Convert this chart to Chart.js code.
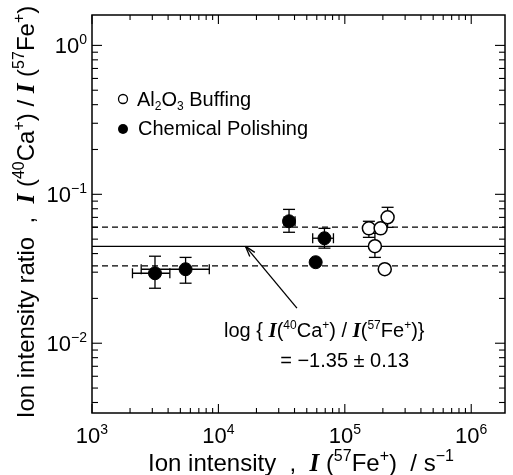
<!DOCTYPE html>
<html>
<head>
<meta charset="utf-8">
<script src="https://cdn.jsdelivr.net/npm/chart.js@4/dist/chart.umd.min.js"></script>
<style>
  body { margin: 0; background: #fff; }
  canvas { display: block; }
</style>
</head>
<body>
<canvas id="grafico" width="513" height="475"></canvas>
<script>
// Al2O3 buffing (open circles)
const buffX = [218000, 155000, 192000, 173000, 207000]
const buffY = [0.0701, 0.0591, 0.0591, 0.0448, 0.0314]
const buffYLo = [0.060, 0.0514, null, 0.0377, null]
const buffYHi = [0.0818, 0.0659, null, 0.0547, null]

// chemical polishing (filled circles)
const chemX = [3150, 5500, 36200, 69000, 58800]
const chemY = [0.0295, 0.0314, 0.0659, 0.0507, 0.0350]
const chemYLo = [0.0234, 0.0253, 0.0556, 0.0435, null]
const chemYHi = [0.0384, 0.0377, 0.0792, 0.0591, null]
const chemXLo = [2090, 2450, 33100, 55700, null]
const chemXHi = [4130, 8470, 40400, 81300, null]

// log{I(Ca)/I(Fe)} = -1.35 +- 0.13
const mediaRazao = 0.0447
const razaoSup = 0.0603
const razaoInf = 0.0331

// decades that get a label
const xExpoentes = [3, 4, 5, 6]
const yExpoentes = [0, -1, -2]

const xMin = 1000, xMax = 1.85e6
const yMin = 0.0034, yMax = 1.6

const SANS = '"Liberation Sans", Arial, sans-serif'
const SERIF = '"Liberation Serif", "Times New Roman", serif'

const pontos = (xs, ys) => xs.map((v, i) => ({x: v, y: ys[i]}))
const horizontal = v => [{x: xMin, y: v}, {x: xMax, y: v}]

// text made of runs: [texto, tipo] tipo = '' | 'sup' | 'sub' | 'I'
let supEscala = 0.62
const fonteRun = (tipo, size) => {
    if (tipo === 'sup' || tipo === 'sub') return `${Math.round(size * supEscala)}px ${SANS}`
    if (tipo === 'I') return `bold italic ${Math.round(size * 1.05)}px ${SERIF}`
    return `${size}px ${SANS}`
}
const larguraRuns = (ctx, runs, size) => runs.reduce((w, [t, k]) => {
    ctx.font = fonteRun(k, size)
    return w + ctx.measureText(t).width
}, 0)
const desenhaRuns = (ctx, runs, x, y, size, align) => {
    let px = x
    const w = larguraRuns(ctx, runs, size)
    if (align === 'center') px = x - w / 2
    if (align === 'right') px = x - w
    ctx.textAlign = 'left'
    ctx.textBaseline = 'alphabetic'
    runs.forEach(([t, k]) => {
        ctx.font = fonteRun(k, size)
        let dy = 0
        if (k === 'sup') dy = -size * 0.4
        if (k === 'sub') dy = size * 0.22
        ctx.fillText(t, px, y + dy)
        px += ctx.measureText(t).width
    })
}

const linha = (ctx, x1, y1, x2, y2) => {
    ctx.beginPath()
    ctx.moveTo(x1, y1)
    ctx.lineTo(x2, y2)
    ctx.stroke()
}

const barrasErro = {
    id: 'barrasErro',
    beforeDatasetsDraw(chart) {
        const {ctx, scales: {x, y}} = chart
        ctx.save()
        ctx.strokeStyle = '#000'
        ctx.lineWidth = 1.3
        const cap = 6
        const vertical = (xv, lo, hi) => {
            const px = x.getPixelForValue(xv)
            const p1 = y.getPixelForValue(lo), p2 = y.getPixelForValue(hi)
            linha(ctx, px, p1, px, p2)
            linha(ctx, px - cap, p1, px + cap, p1)
            linha(ctx, px - cap, p2, px + cap, p2)
        }
        const horiz = (yv, lo, hi) => {
            const py = y.getPixelForValue(yv)
            const p1 = x.getPixelForValue(lo), p2 = x.getPixelForValue(hi)
            linha(ctx, p1, py, p2, py)
            linha(ctx, p1, py - 5, p1, py + 5)
            linha(ctx, p2, py - 5, p2, py + 5)
        }
        chemX.forEach((v, i) => {
            if (chemYLo[i] != null) vertical(v, chemYLo[i], chemYHi[i])
            if (chemXLo[i] != null) horiz(chemY[i], chemXLo[i], chemXHi[i])
        })
        buffX.forEach((v, i) => {
            if (buffYLo[i] != null) vertical(v, buffYLo[i], buffYHi[i])
        })
        ctx.restore()
    }
}

const eixos = {
    id: 'eixos',
    afterDraw(chart) {
        const {ctx, chartArea: a, scales: {x, y}} = chart
        ctx.save()
        ctx.strokeStyle = '#000'
        ctx.fillStyle = '#000'
        ctx.lineWidth = 1.5
        ctx.strokeRect(a.left, a.top, a.right - a.left, a.bottom - a.top)

        // inward ticks on all four sides
        ctx.lineWidth = 1.1
        for (let e = 3; e <= 6; e++) for (let m = 1; m <= 9; m++) {
            const v = m * 10 ** e
            if (v < xMin || v > xMax) continue
            const px = x.getPixelForValue(v)
            const len = m === 1 ? 9 : 5
            linha(ctx, px, a.bottom, px, a.bottom - len)
            linha(ctx, px, a.top, px, a.top + len)
        }
        for (let e = -3; e <= 0; e++) for (let m = 1; m <= 9; m++) {
            const v = m * 10 ** e
            if (v < yMin || v > yMax) continue
            const py = y.getPixelForValue(v)
            const len = m === 1 ? 10 : 6
            linha(ctx, a.left, py, a.left + len, py)
            linha(ctx, a.right, py, a.right - len, py)
        }

        // tick labels 10^n
        supEscala = 0.64
        xExpoentes.forEach(e => {
            const px = x.getPixelForValue(10 ** e)
            desenhaRuns(ctx, [['10', ''], [String(e).replace('-', '−'), 'sup']], px, a.bottom + 30, 22, 'center')
        })
        yExpoentes.forEach(e => {
            const py = y.getPixelForValue(10 ** e)
            desenhaRuns(ctx, [['10', ''], [String(e).replace('-', '−'), 'sup']], a.left - 5, py + 7.5, 22, 'right')
        })

        // axis titles
        supEscala = 0.68
        desenhaRuns(ctx, [['Ion intensity  ,  ', ''], ['I', 'I'], [' (', ''], ['57', 'sup'], ['Fe', ''], ['+', 'sup'],
            [')  / s', ''], ['−1', 'sup']], 301, 471, 24, 'center')
        ctx.save()
        ctx.translate(34, 212)
        ctx.rotate(-Math.PI / 2)
        desenhaRuns(ctx, [['Ion intensity ratio  ,  ', ''], ['I', 'I'], [' (', ''], ['40', 'sup'], ['Ca', ''], ['+', 'sup'],
            [') / ', ''], ['I', 'I'], [' (', ''], ['57', 'sup'], ['Fe', ''], ['+', 'sup'], [')', '']], 0, 0, 24, 'center')
        ctx.restore()

        // legend
        supEscala = 0.62
        ctx.lineWidth = 1.3
        ctx.beginPath()
        ctx.arc(a.left + 31, 99, 4.5, 0, Math.PI * 2)
        ctx.stroke()
        ctx.beginPath()
        ctx.arc(a.left + 31, 129, 5, 0, Math.PI * 2)
        ctx.fill()
        desenhaRuns(ctx, [['Al', ''], ['2', 'sub'], ['O', ''], ['3', 'sub'], [' Buffing', '']], a.left + 45, 106, 20, 'left')
        desenhaRuns(ctx, [['Chemical Polishing', '']], a.left + 46, 135, 20, 'left')

        // arrow pointing at the mean line
        const tx = x.getPixelForValue(16400), ty = y.getPixelForValue(mediaRazao)
        const cx = x.getPixelForValue(41800), cy = y.getPixelForValue(0.0172)
        ctx.lineWidth = 1.3
        linha(ctx, cx, cy, tx, ty)
        const ang = Math.atan2(ty - cy, tx - cx)
        linha(ctx, tx, ty, tx - 11 * Math.cos(ang - 0.3), ty - 11 * Math.sin(ang - 0.3))
        linha(ctx, tx, ty, tx - 11 * Math.cos(ang + 0.3), ty - 11 * Math.sin(ang + 0.3))

        // fitted value
        const lx = x.getPixelForValue(11080), ly = y.getPixelForValue(0.0110)
        desenhaRuns(ctx, [['log { ', ''], ['I', 'I'], ['(', ''], ['40', 'sup'], ['Ca', ''], ['+', 'sup'], [') / ', ''],
            ['I', 'I'], ['(', ''], ['57', 'sup'], ['Fe', ''], ['+', 'sup'], [')}', '']], lx, ly, 20, 'left')
        const mx = x.getPixelForValue(30800), my = y.getPixelForValue(0.00693)
        desenhaRuns(ctx, [['= −1.35 ', ''], ['±', ''], [' 0.13', '']], mx, my, 20, 'left')
        ctx.restore()
    }
}

const config = {
    type: 'scatter',
    data: {
        datasets: [
            {
                label: 'Al2O3 Buffing',
                data: pontos(buffX, buffY),
                pointRadius: 6.5,
                backgroundColor: '#fff',
                borderColor: '#000',
                borderWidth: 1.5,
            },
            {
                label: 'Chemical Polishing',
                data: pontos(chemX, chemY),
                pointRadius: 6.5,
                backgroundColor: '#000',
                borderColor: '#000',
                borderWidth: 1,
            },
            {
                type: 'line',
                data: horizontal(mediaRazao),
                borderColor: '#000',
                borderWidth: 1.3,
                pointRadius: 0,
            },
            {
                type: 'line',
                data: horizontal(razaoSup),
                borderColor: '#000',
                borderWidth: 1.2,
                borderDash: [6, 4],
                pointRadius: 0,
            },
            {
                type: 'line',
                data: horizontal(razaoInf),
                borderColor: '#000',
                borderWidth: 1.2,
                borderDash: [6, 4],
                pointRadius: 0,
            },
        ]
    },
    options: {
        responsive: false,
        animation: false,
        layout: {
            padding: {left: 92, right: 2, top: 15, bottom: 62}
        },
        scales: {
            x: {
                type: 'logarithmic',
                min: xMin,
                max: xMax,
                display: false,
            },
            y: {
                type: 'logarithmic',
                min: yMin,
                max: yMax,
                display: false,
            }
        },
        plugins: {
            legend: { display: false },
            tooltip: { enabled: false }
        }
    },
    plugins: [barrasErro, eixos]
}

const myChart = new Chart(
    document.getElementById('grafico'),
    config
)
</script>
</body>
</html>
